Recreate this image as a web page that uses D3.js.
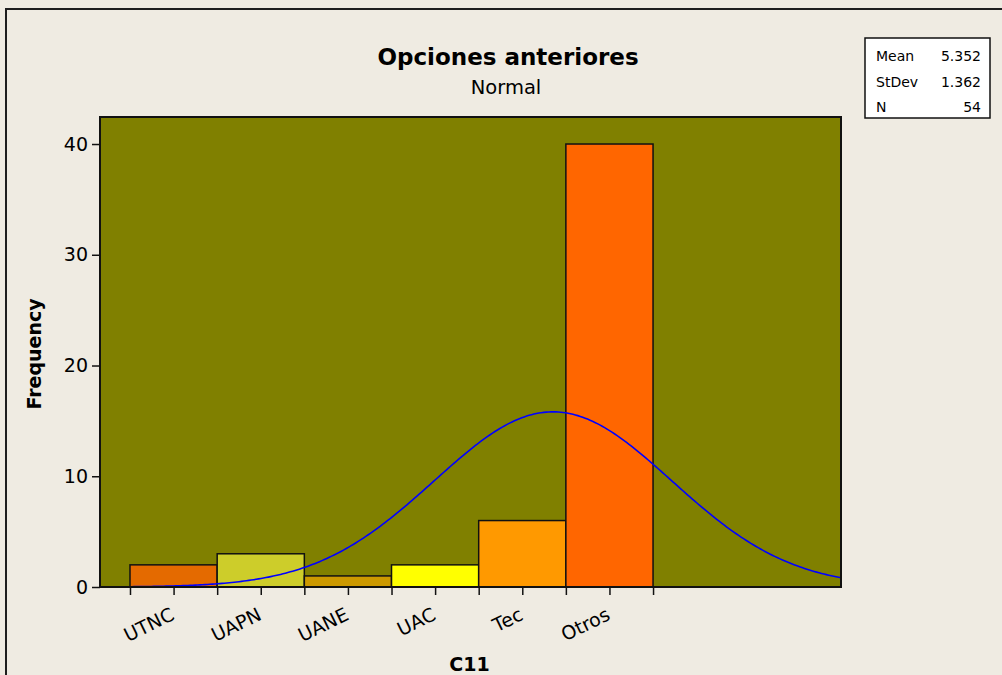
<!DOCTYPE html>
<html>
<head>
<meta charset="utf-8">
<script src="https://cdn.jsdelivr.net/npm/d3@7"></script>
<style>
  html, body { margin: 0; padding: 0; background: #EFEBE2; }
  svg { display: block; }
  text { font-family: "DejaVu Sans", Verdana, sans-serif; fill: #000; }
</style>
</head>
<body>
<svg id="chart" width="1002" height="675"></svg>
<script>
// ---- data ----
const categories = ["UTNC", "UAPN", "UANE", "UAC", "Tec", "Otros"];
const codes = [1, 2, 3, 4, 5, 6];
const frequencies = [2, 3, 1, 2, 6, 40];
const barColors = ["#E46A00", "#CDCD2A", "#CC9900", "#FFFF00", "#FF9900", "#FF6600"];
const yTicks = [0, 10, 20, 30, 40];
const statLabels = ["Mean", "StDev", "N"];
const statValues = ["5.352", "1.362", "54"];
const fitMean = 5.352, fitStDev = 1.362, fitN = 54, binWidth = 1;
const xDomain = [0.156, 8.656];
const curveRange = [0.27, 8.656];
const yDomain = [0, 42.44];

// ---- layout ----
const svg = d3.select("#chart");
const plot = { left: 100, top: 117, right: 841, bottom: 587 };

svg.append("rect").attr("x", 6).attr("y", 9).attr("width", 1100).attr("height", 800)
  .attr("fill", "#EFEBE2").attr("stroke", "#1e1e1e").attr("stroke-width", 2);

const x = d3.scaleLinear().domain(xDomain).range([plot.left, plot.right]);
const y = d3.scaleLinear().domain(yDomain).range([plot.bottom, plot.top]);

// plot area
svg.append("rect").attr("x", plot.left).attr("y", plot.top)
  .attr("width", plot.right - plot.left).attr("height", plot.bottom - plot.top)
  .attr("fill", "#808000");

// bars
svg.append("g").selectAll("rect").data(codes).join("rect")
  .attr("x", (d) => x(d - binWidth / 2))
  .attr("y", (d, i) => y(frequencies[i]))
  .attr("width", (d) => x(d + binWidth / 2) - x(d - binWidth / 2))
  .attr("height", (d, i) => y(0) - y(frequencies[i]))
  .attr("fill", (d, i) => barColors[i])
  .attr("stroke", "#111").attr("stroke-width", 1.5);

// fitted normal curve (from Mean / StDev / N shown in the legend)
const pdf = (v) => fitN * binWidth * Math.exp(-0.5 * ((v - fitMean) / fitStDev) ** 2) / (fitStDev * Math.sqrt(2 * Math.PI));
const curvePts = d3.range(curveRange[0], curveRange[1] + 1e-9, (curveRange[1] - curveRange[0]) / 300);
svg.append("path").datum(curvePts)
  .attr("d", d3.line().x((d) => x(d)).y((d) => y(pdf(d))))
  .attr("fill", "none").attr("stroke", "#0000FF").attr("stroke-width", 1.6);

// frame
svg.append("rect").attr("x", plot.left).attr("y", plot.top)
  .attr("width", plot.right - plot.left).attr("height", plot.bottom - plot.top)
  .attr("fill", "none").attr("stroke", "#111").attr("stroke-width", 2);

// y axis
const yAxis = d3.axisLeft(y).tickValues(yTicks).tickSize(8).tickPadding(4);
const yg = svg.append("g").attr("transform", `translate(${plot.left},0)`).call(yAxis);
yg.select(".domain").remove();
yg.selectAll("line").attr("stroke", "#111").attr("stroke-width", 1.5);
yg.selectAll("text").attr("font-size", "19px").attr("font-family", "DejaVu Sans");

// x axis: ticks at bin edges and midpoints
const xTickVals = [];
codes.forEach((c) => { xTickVals.push(c - binWidth / 2, c); });
xTickVals.push(codes[codes.length - 1] + binWidth / 2);
const xAxis = d3.axisBottom(x).tickValues(xTickVals).tickSize(8).tickFormat(() => "");
const xg = svg.append("g").attr("transform", `translate(0,${plot.bottom})`).call(xAxis);
xg.select(".domain").remove();
xg.selectAll("line").attr("stroke", "#111").attr("stroke-width", 1.5);

svg.append("g").selectAll("text").data(categories).join("text")
  .attr("transform", (d, i) => `translate(${x(codes[i]) + 2},${plot.bottom + 32}) rotate(-26)`)
  .attr("text-anchor", "end")
  .attr("font-size", "19px")
  .text((d) => d);

// titles
svg.append("text").attr("x", 508).attr("y", 65).attr("text-anchor", "middle")
  .attr("font-size", "23px").attr("font-weight", "bold").text("Opciones anteriores");
svg.append("text").attr("x", 506).attr("y", 94).attr("text-anchor", "middle")
  .attr("font-size", "19.5px").text("Normal");
svg.append("text").attr("x", (plot.left + plot.right) / 2 - 1).attr("y", 671).attr("text-anchor", "middle")
  .attr("font-size", "19px").attr("font-weight", "bold").text("C11");
svg.append("text").attr("transform", `translate(41,354) rotate(-90)`).attr("text-anchor", "middle")
  .attr("font-size", "19px").attr("font-weight", "bold").text("Frequency");

// stats box
svg.append("rect").attr("x", 865).attr("y", 38).attr("width", 125).attr("height", 80)
  .attr("fill", "#FFFFFF").attr("stroke", "#111").attr("stroke-width", 1.5);
const sg = svg.append("g");
sg.selectAll("text.lbl").data(statLabels).join("text").attr("class", "lbl")
  .attr("x", 876).attr("y", (d, i) => 61 + i * 25.5).attr("font-size", "14px").text((d) => d);
sg.selectAll("text.val").data(statValues).join("text").attr("class", "val")
  .attr("x", 981).attr("y", (d, i) => 61 + i * 25.5).attr("text-anchor", "end").attr("font-size", "14px").text((d) => d);
</script>
</body>
</html>
